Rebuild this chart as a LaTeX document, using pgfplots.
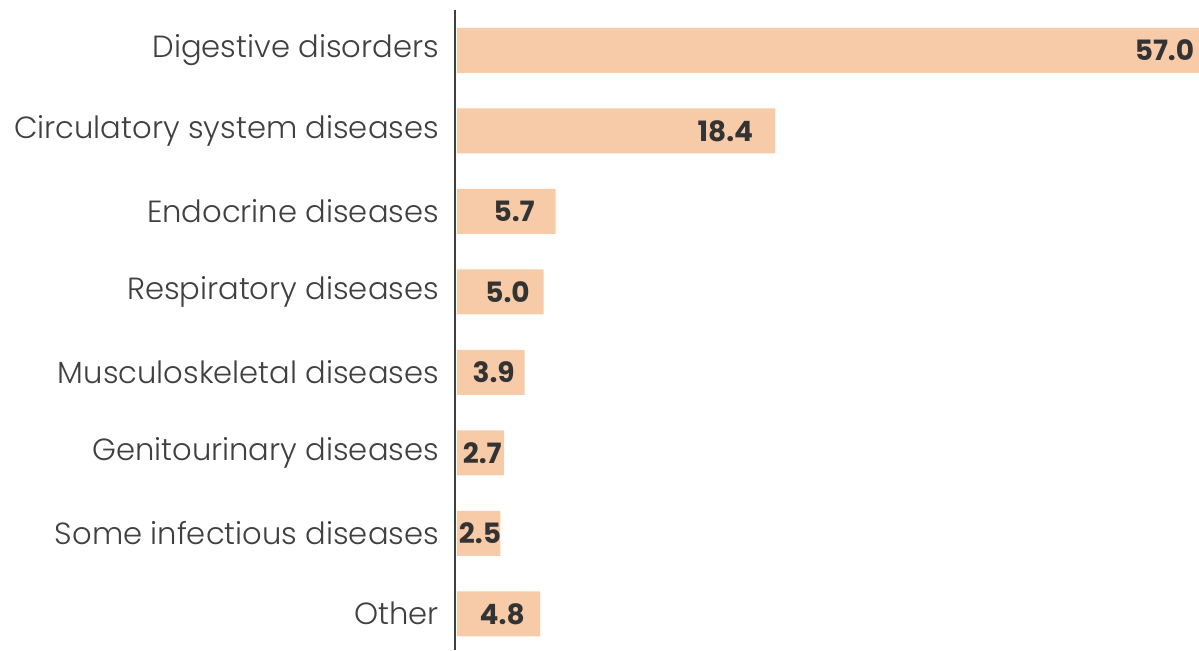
\documentclass[border=0pt]{standalone}
\usepackage{fontspec}
\setmainfont{Poppins}
\newfontfamily\lightfont{Poppins Light}
\usepackage{pgfplots}
\pgfplotsset{compat=1.18}
\usepackage{pgfplotstable}
\definecolor{barc}{HTML}{F8CBA8}
\definecolor{txt}{HTML}{404040}
\definecolor{lab}{HTML}{333333}

\pgfplotstableread{
idx value lx
0 57.0 42.7
1 18.4 17.2
2 5.7 4.57
3 5.0 4.28
4 3.9 3.41
5 2.7 2.66
6 2.5 2.62
7 4.8 3.99
}\data

\begin{document}
\begin{tikzpicture}
\begin{axis}[
  scale only axis, width=372pt, height=320pt,
  bar width=22.5pt,
  xmin=-0.12, xmax=42.9, ymin=-0.5, ymax=7.45, y dir=reverse,
  axis on top,
  line width=1.4pt,
  axis x line=none, axis y line=left,
  y axis line style={-, draw=txt, line width=1.4pt},
  ytick={0,...,7},
  yticklabels={Digestive disorders, Circulatory system diseases, Endocrine diseases, Respiratory diseases, Musculoskeletal diseases, Genitourinary diseases, Some infectious diseases, Other},
  major tick length=0pt,
  yticklabel style={font=\lightfont\fontsize{15.3}{17}\selectfont, color=txt, xshift=-4pt},
  /pgf/number format/assume math mode=true,
  clip=true,
]
\addplot[xbar, fill=barc, draw=none] table[x=value, y=idx] {\data};
\addplot[draw=none, mark=none, point meta=explicit,
  nodes near coords={\pgfmathprintnumber[fixed,zerofill,precision=1,assume math mode=true]{\pgfplotspointmeta}},
  nodes near coords style={anchor=east, inner xsep=0pt, font=\fontsize{14}{16}\selectfont\bfseries, color=lab}]
  table[x=lx, y=idx, meta=value] {\data};
\end{axis}
\pgfresetboundingbox
\path[use as bounding box] (-227.5pt,0pt) rectangle (372pt,325pt);
\end{tikzpicture}
\end{document}
